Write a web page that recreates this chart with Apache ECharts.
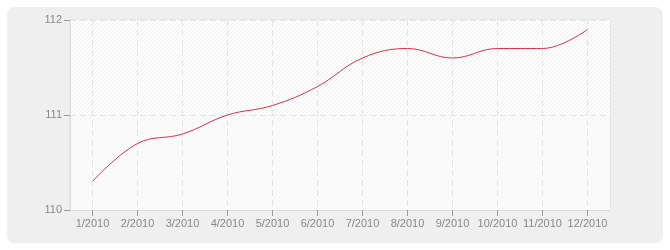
<!DOCTYPE html>
<html>
<head>
<meta charset="utf-8">
<script src="https://cdn.jsdelivr.net/npm/echarts@6/dist/echarts.min.js"></script>
<style>
html,body{margin:0;padding:0;background:#fff;}
#c{width:670px;height:250px;}
</style>
</head>
<body>
<div id="c"></div>
<script>
var categories = ['1/2010','2/2010','3/2010','4/2010','5/2010','6/2010','7/2010','8/2010','9/2010','10/2010','11/2010','12/2010'];
var values = [110.3, 110.7, 110.8, 111.0, 111.1, 111.3, 111.6, 111.7, 111.6, 111.7, 111.7, 111.9];
var yTicks = [110, 111, 112];

function hatch(bg, fg) {
  var c = document.createElement('canvas');
  c.width = 4; c.height = 4;
  var g = c.getContext('2d');
  g.fillStyle = bg; g.fillRect(0,0,4,4);
  g.strokeStyle = fg; g.lineWidth = 1;
  g.beginPath();
  g.moveTo(-1,5); g.lineTo(5,-1);
  g.moveTo(-1,1); g.lineTo(1,-1);
  g.moveTo(3,5); g.lineTo(5,3);
  g.stroke();
  return c;
}

var chart = echarts.init(document.getElementById('c'), null, {renderer:'canvas'});
var font = 'Liberation Sans';
chart.setOption({
  animation: false,
  graphic: [{
    type: 'rect', z: -10, silent: true,
    shape: {x: 7, y: 7, width: 656, height: 236, r: 8},
    style: {fill: '#efefef'}
  }],
  grid: {left: 70, top: 20, width: 540, height: 190, show: true, backgroundColor: '#ffffff', borderColor: '#dddddd', borderWidth: 1},
  xAxis: {
    type: 'category', data: categories, boundaryGap: true,
    axisLine: {show: true, lineStyle: {color: '#dddddd'}},
    axisTick: {show: true, alignWithLabel: true, interval: 0, length: 6, lineStyle: {color: '#999999'}},
    axisLabel: {color: '#888888', fontSize: 11, fontFamily: font, margin: 8, interval: 0},
    splitLine: {show: true, alignWithLabel: true, interval: 0, lineStyle: {color: '#e4e4e4', type: [6,4]}}
  },
  yAxis: {
    type: 'value', min: yTicks[0], max: yTicks[yTicks.length-1], interval: 1,
    axisLine: {show: true, lineStyle: {color: '#dddddd'}},
    axisTick: {show: true, length: 6, lineStyle: {color: '#999999'}},
    axisLabel: {color: '#888888', fontSize: 11, fontFamily: font, margin: 8},
    splitLine: {show: true, lineStyle: {color: '#e4e4e4', type: [6,4]}},
    splitArea: {show: true, areaStyle: {color: [
      {image: hatch('#fbfbfb', '#f5f5f5'), repeat: 'repeat'},
      {image: hatch('#ffffff', '#eeeeee'), repeat: 'repeat'}
    ]}}
  },
  series: [{
    type: 'line', data: values, smooth: 0.4, symbol: 'none',
    lineStyle: {color: '#d9304a', width: 1}
  }]
});
</script>
</body>
</html>
